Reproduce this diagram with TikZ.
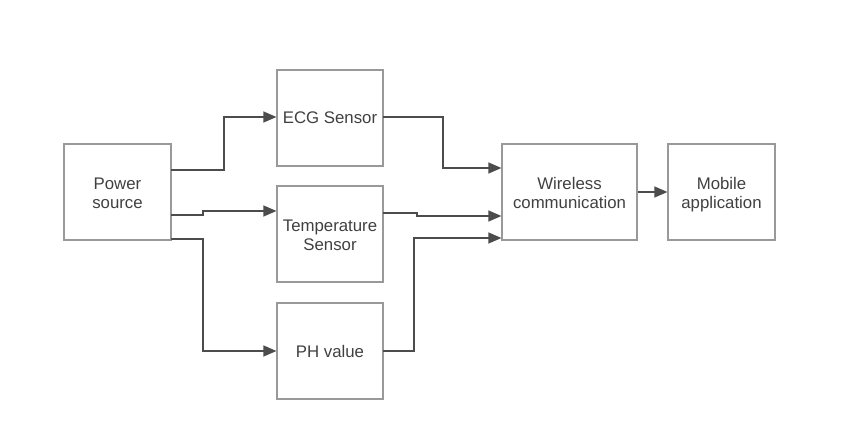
\documentclass[tikz,border=0pt]{standalone}
\usepackage{fontspec}
\setmainfont{Liberation Sans}
\usetikzlibrary{arrows.meta}
\newcommand\tstrut{\rule{0pt}{19.5pt}}
\begin{document}
\begin{tikzpicture}[x=1pt,y=-1pt,
  blk/.style={draw=black!40,line width=1.2pt,inner sep=0pt,align=center,text=black!75,font=\fontsize{16.8}{19.5}\selectfont},
  conn/.style={draw=black!70,line width=1.2pt,-{Triangle[length=13pt,width=11pt]}}]
\useasboundingbox (0,0) rectangle (844,441);
\node[blk,minimum width=107pt,minimum height=96pt] (ps) at (117.5,192) {\tstrut Power\\\strut source};
\node[blk,minimum width=106pt,minimum height=96pt] (ecg) at (330,118) {ECG Sensor};
\node[blk,minimum width=106pt,minimum height=96pt] (tmp) at (330,234) {\tstrut Temperature\\\strut Sensor};
\node[blk,minimum width=106pt,minimum height=96pt] (ph) at (330,351) {PH value};
\node[blk,minimum width=135pt,minimum height=96pt] (wc) at (569.5,192) {\tstrut Wireless\\\strut communication};
\node[blk,minimum width=107pt,minimum height=96pt] (ma) at (721.5,192) {\tstrut Mobile\\\strut application};
\coordinate (a1) at (171,170);
\coordinate (a2) at (171,215);
\coordinate (a3) at (171,239);
\draw[conn] (a1) -| (224,117) -- (ecg.west |- 0,117);
\draw[conn] (a2) -- (203,215) -- (203,211) -- (tmp.west |- 0,211);
\draw[conn] (a3) -| (203,351) -- (ph.west);
\coordinate (b1) at (383,117);
\coordinate (b2) at (383,213);
\coordinate (b3) at (383,351);
\draw[conn] (b1) -| (443,168) -- (wc.west |- 0,168);
\draw[conn] (b2) -- (417,213) -- (417,216) -- (wc.west |- 0,216);
\draw[conn] (b3) -| (414,238) -- (wc.west |- 0,238);
\draw[conn] (wc.east) -- (ma.west);
\end{tikzpicture}
\end{document}
